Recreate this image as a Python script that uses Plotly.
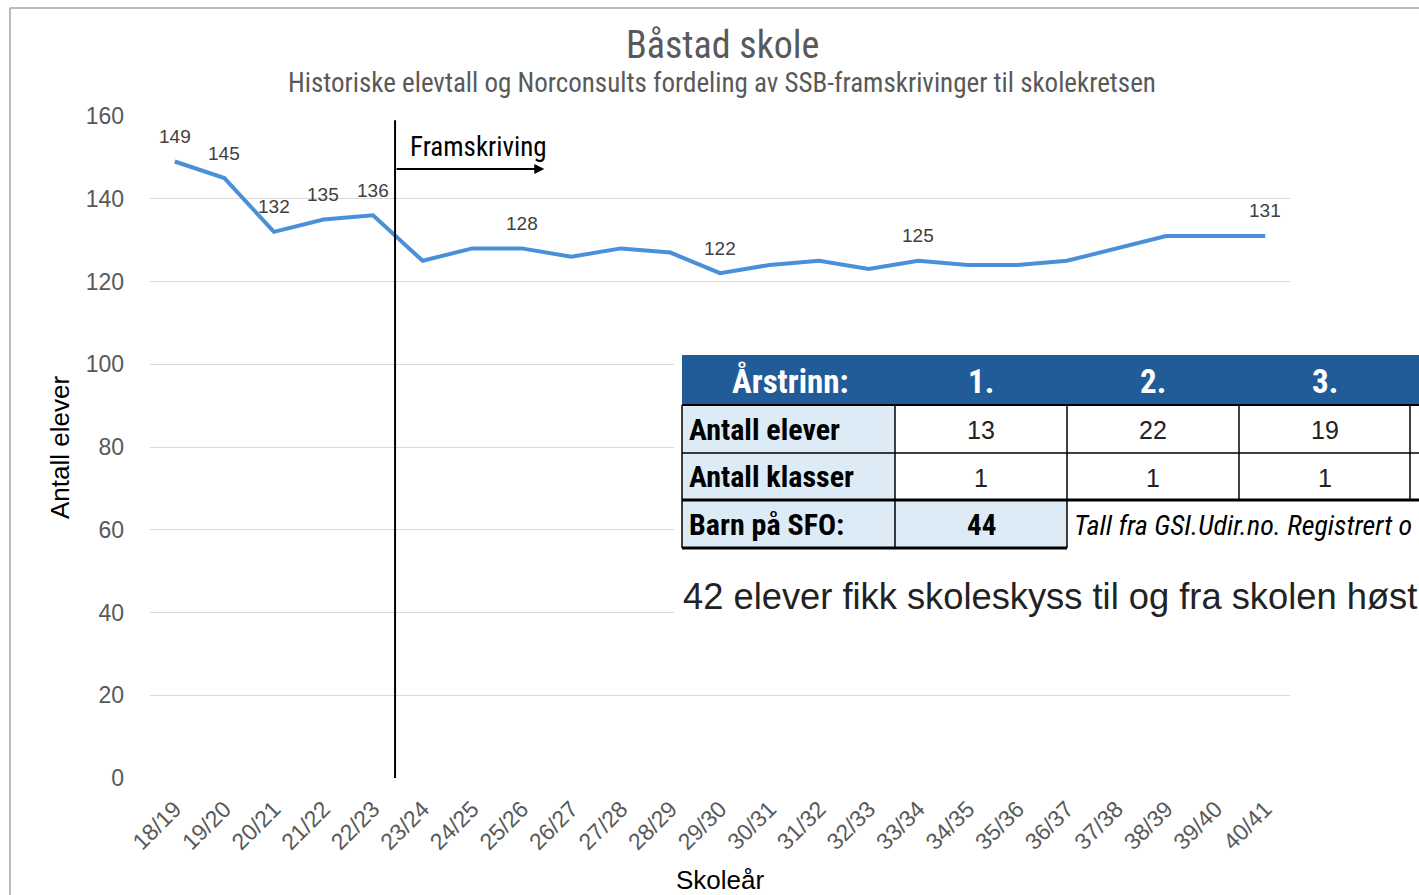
import plotly.graph_objects as go

# ---- data ----
years = ["18/19", "19/20", "20/21", "21/22", "22/23", "23/24", "24/25", "25/26",
         "26/27", "27/28", "28/29", "29/30", "30/31", "31/32", "32/33", "33/34",
         "34/35", "35/36", "36/37", "37/38", "38/39", "39/40", "40/41"]
elevtall = [149, 145, 132, 135, 136, 125, 128, 128, 126, 128, 127, 122, 124, 125,
            123, 125, 124, 124, 125, 128, 131, 131, 131]
label_years = ["18/19", "19/20", "20/21", "21/22", "22/23", "25/26", "29/30", "33/34", "40/41"]

y_ticks = [0, 20, 40, 60, 80, 100, 120, 140, 160]

table_header = ["Årstrinn:", "1.", "2.", "3."]
row_elever = ["Antall elever", "13", "22", "19"]
row_klasser = ["Antall klasser", "1", "1", "1"]
sfo_label = "Barn på SFO:"
sfo_value = "44"
kilde = "Tall fra GSI.Udir.no. Registrert o"
skyss = "42 elever fikk skoleskyss til og fra skolen høst"

# ---- layout geometry (pixels) ----
W, H = 1419, 895
L, R, T, B = 150, 129, 116, 117
PW, PH = W - L - R, H - T - B

def px(x):
    return (x - L) / PW

def py(y):
    return (H - B - y) / PH

NARROW = "Liberation Sans Narrow, Arial Narrow, Roboto Condensed, sans-serif"
ARIAL = "Liberation Sans, Arial, sans-serif"

fig = go.Figure()
fig.add_trace(go.Scatter(
    x=years, y=elevtall, mode="lines",
    line=dict(color="#4A90D9", width=4),
    hoverinfo="x+y", showlegend=False,
))

annotations = []
# data labels
for yr in label_years:
    v = elevtall[years.index(yr)]
    annotations.append(dict(x=yr, y=v, xref="x", yref="y", text=str(v),
                            showarrow=False, yshift=25,
                            font=dict(family=ARIAL, size=19, color="#404040")))

# titles
annotations.append(dict(x=px(722), y=py(45), xref="paper", yref="paper", text="Båstad skole",
                        showarrow=False, xanchor="center", yanchor="middle",
                        font=dict(family=NARROW, size=38, color="#595959")))
annotations.append(dict(x=px(722), y=py(83), xref="paper", yref="paper",
                        text="Historiske elevtall og Norconsults fordeling av SSB-framskrivinger til skolekretsen",
                        showarrow=False, xanchor="center", yanchor="middle",
                        font=dict(family=NARROW, size=27, color="#595959")))
annotations.append(dict(x=px(60), y=py(448), xref="paper", yref="paper", text="Antall elever",
                        showarrow=False, textangle=-90, xanchor="center", yanchor="middle",
                        font=dict(family=ARIAL, size=26, color="#000000")))
annotations.append(dict(x=px(720), y=py(880), xref="paper", yref="paper", text="Skoleår",
                        showarrow=False, xanchor="center", yanchor="middle",
                        font=dict(family=ARIAL, size=26, color="#000000")))

# Framskriving marker
split = 4.444
annotations.append(dict(x=7.455, y=147.2, ax=split, ay=147.2, xref="x", yref="y",
                        axref="x", ayref="y", text="", showarrow=True,
                        arrowhead=2, arrowsize=1, arrowwidth=2, arrowcolor="#000000"))
annotations.append(dict(x=px(408), y=py(147), xref="paper", yref="paper", text="Framskriving",
                        showarrow=False, xanchor="left", yanchor="middle",
                        font=dict(family=NARROW, size=27, color="#000000")))

shapes = []
shapes.append(dict(type="line", xref="x", yref="y", x0=split, x1=split, y0=0, y1=159,
                   line=dict(color="#000000", width=2)))

# chart frame
shapes.append(dict(type="line", xref="paper", yref="paper", x0=px(10), x1=px(W + 5),
                   y0=py(8), y1=py(8), line=dict(color="#A6A6A6", width=1.5)))
shapes.append(dict(type="line", xref="paper", yref="paper", x0=px(10), x1=px(10),
                   y0=py(8), y1=py(H + 5), line=dict(color="#A6A6A6", width=1.5)))

# ---- pasted table ----
cols = [682, 895, 1067, 1239, 1410, 1600]
rows = [355, 405, 453, 500, 548]

def rect(x0, y0, x1, y1, fill, lc=None, lw=0):
    shapes.append(dict(type="rect", xref="paper", yref="paper",
                       x0=px(x0), x1=px(x1), y0=py(y0), y1=py(y1),
                       fillcolor=fill, line=dict(color=lc or fill, width=lw), layer="above"))

def hline(x0, x1, y, w):
    shapes.append(dict(type="line", xref="paper", yref="paper", x0=px(x0), x1=px(x1),
                       y0=py(y), y1=py(y), line=dict(color="#000000", width=w), layer="above"))

def vline(x, y0, y1, w):
    shapes.append(dict(type="line", xref="paper", yref="paper", x0=px(x), x1=px(x),
                       y0=py(y0), y1=py(y1), line=dict(color="#000000", width=w), layer="above"))

rect(674, 348, W + 50, 650, "#FFFFFF")
rect(682, rows[0], W + 50, rows[1], "#215C98")
rect(682, rows[1], cols[1], rows[3], "#DDEBF7")
rect(682, rows[3], cols[2], rows[4], "#DDEBF7")

hline(682, W + 50, rows[1], 2)
hline(682, W + 50, rows[2], 1.5)
hline(682, W + 50, rows[3], 3)
hline(682, cols[2], rows[4], 3)
vline(682, rows[1], rows[4], 1.5)
vline(cols[1], rows[1], rows[4], 1.5)
vline(cols[2], rows[1], rows[4], 1.5)
vline(cols[3], rows[1], rows[3], 1.5)
vline(cols[4], rows[1], rows[3], 1.5)

def cell_text(txt, xc, yc, size, color, family, anchor="center"):
    annotations.append(dict(x=px(xc), y=py(yc), xref="paper", yref="paper", text=txt,
                            showarrow=False, xanchor=anchor, yanchor="middle",
                            font=dict(family=family, size=size, color=color)))

ymid = [(rows[i] + rows[i + 1]) / 2 for i in range(4)]
xmid = [(cols[i] + cols[i + 1]) / 2 for i in range(5)]

cell_text("<b>" + table_header[0] + "</b>", 790, ymid[0] + 1, 33, "#FFFFFF", NARROW)
for i in range(1, 4):
    cell_text("<b>" + table_header[i] + "</b>", xmid[i], ymid[0] + 1, 33, "#FFFFFF", NARROW)

cell_text("<b>" + row_elever[0] + "</b>", 687, ymid[1], 30, "#000000", NARROW, "left")
cell_text("<b>" + row_klasser[0] + "</b>", 687, ymid[2], 30, "#000000", NARROW, "left")
for i in range(1, 4):
    cell_text(row_elever[i], xmid[i], ymid[1] + 1, 25, "#222222", ARIAL)
    cell_text(row_klasser[i], xmid[i], ymid[2] + 1, 25, "#222222", ARIAL)
cell_text("<b>" + sfo_label + "</b>", 687, ymid[3], 30, "#000000", NARROW, "left")
cell_text("<b>" + sfo_value + "</b>", xmid[1], ymid[3] + 1, 29, "#000000", NARROW)
cell_text("<i>" + kilde + "</i>", 1072, ymid[3] + 1, 28, "#000000", NARROW, "left")

cell_text(skyss, 681, 596, 36.3, "#222222", ARIAL, "left")

fig.update_layout(
    width=W, height=H,
    margin=dict(l=L, r=R, t=T, b=B, autoexpand=False),
    paper_bgcolor="#FFFFFF", plot_bgcolor="#FFFFFF",
    showlegend=False,
    xaxis=dict(type="category", categoryorder="array", categoryarray=years,
               range=[-0.5, len(years) - 0.5], showgrid=False, showline=False,
               zeroline=False, ticks="", tickangle=-45, ticklabelstandoff=12,
               tickfont=dict(family=ARIAL, size=23, color="#595959")),
    yaxis=dict(range=[0, 160], tickvals=y_ticks, showgrid=True, gridcolor="#D9D9D9",
               gridwidth=1, zeroline=False, showline=False, ticks="",
               ticklabelstandoff=25,
               tickfont=dict(family=ARIAL, size=23, color="#595959")),
    annotations=annotations,
    shapes=shapes,
)

fig.write_html("out.html", config={"displayModeBar": False},
               post_script="document.body.style.margin='0';")
